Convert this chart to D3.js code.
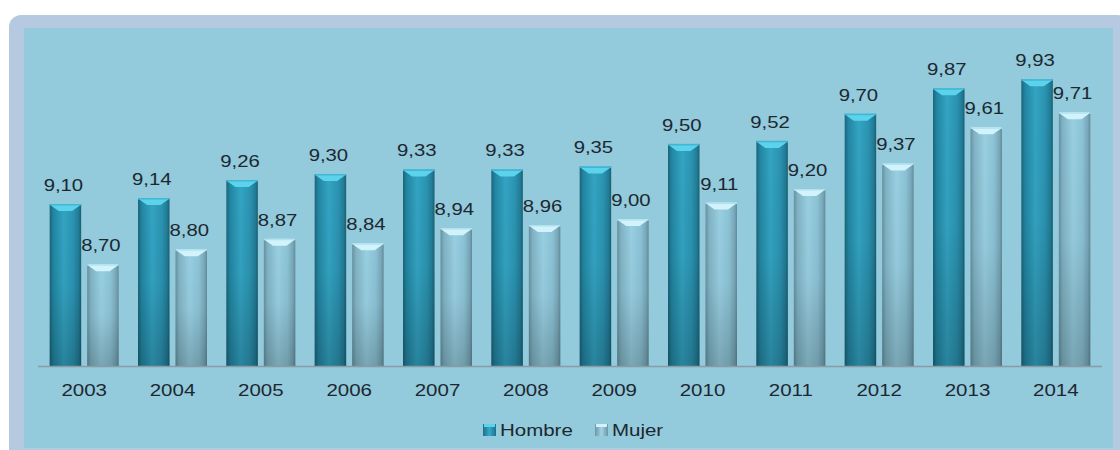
<!DOCTYPE html>
<html><head><meta charset="utf-8">
<script src="https://cdn.jsdelivr.net/npm/d3@7/dist/d3.min.js"></script>
<style>html,body{margin:0;padding:0;background:#fff;}svg{display:block;}</style>
</head><body>
<script>
const years = ["2003","2004","2005","2006","2007","2008","2009","2010","2011","2012","2013","2014"];
const hombre = [9.10,9.14,9.26,9.30,9.33,9.33,9.35,9.50,9.52,9.70,9.87,9.93];
const mujer  = [8.70,8.80,8.87,8.84,8.94,8.96,9.00,9.11,9.20,9.37,9.61,9.71];
const seriesNames = ["Hombre","Mujer"];

const W = 1120, H = 450;
const FONT = "'Liberation Sans', Arial, sans-serif";
const TXT = "#1c2830";
const svg = d3.select("body").append("svg").attr("width", W).attr("height", H);
const defs = svg.append("defs");

function hgrad(id, stops){
  const g = defs.append("linearGradient").attr("id", id).attr("x1","0").attr("x2","1").attr("y1","0").attr("y2","0");
  stops.forEach(s => g.append("stop").attr("offset", s[0]).attr("stop-color", s[1]));
}
function vgrad(id, stops){
  const g = defs.append("linearGradient").attr("id", id).attr("x1","0").attr("x2","0").attr("y1","0").attr("y2","1");
  stops.forEach(s => g.append("stop").attr("offset", s[0]).attr("stop-color", s[1][0]).attr("stop-opacity", s[1][1]));
}
hgrad("gH", [[0,"#1a657a"],[0.12,"#2286a2"],[0.45,"#33a4c3"],[0.75,"#2b93b1"],[0.92,"#217c96"],[1,"#185f73"]]);
hgrad("gM", [[0,"#67909f"],[0.12,"#80b3c4"],[0.45,"#98cfe1"],[0.75,"#8bc2d5"],[0.92,"#78a7b8"],[1,"#638b99"]]);
vgrad("shade", [[0,["#000",0]],[0.5,["#000",0.03]],[1,["#000",0.2]]]);
hgrad("legH", [[0,"#1d7088"],[0.5,"#36a7c6"],[1,"#1d7088"]]);
hgrad("legM", [[0,"#6b96a5"],[0.5,"#a3d3e3"],[1,"#6b96a5"]]);

// panel
svg.append("rect").attr("x", 9).attr("y", 15).attr("width", 1120).attr("height", 450)
  .attr("rx", 12).attr("fill", "#b5c9e1");
svg.append("rect").attr("x", 24).attr("y", 28).attr("width", 1089).attr("height", 420)
  .attr("fill", "#93cadc");

const x0 = d3.scaleBand().domain(years).range([40, 1100]).paddingInner(0).paddingOuter(0);
const x1 = d3.scaleBand().domain(seriesNames).range([x0.bandwidth()/2 - 34.5, x0.bandwidth()/2 + 34.5]).paddingInner(0.16);
const y = d3.scaleLinear().domain([8.02, 10]).range([366.5, 366.5 - 1.98*150.4]);

const data = years.map((yr,i) => ({year: yr, vals: [
  {s:"Hombre", v: hombre[i]}, {s:"Mujer", v: mujer[i]}]}));

const g = svg.append("g");
const groups = g.selectAll("g.grp").data(data).join("g").attr("class","grp")
  .attr("transform", d => `translate(${x0(d.year)},0)`);

const bars = groups.selectAll("g.bar").data(d => d.vals).join("g").attr("class","bar");
const bw = x1.bandwidth();
bars.append("rect")
  .attr("x", d => x1(d.s)).attr("width", bw)
  .attr("y", d => y(d.v)).attr("height", d => y.range()[0] - y(d.v))
  .attr("fill", d => d.s === "Hombre" ? "url(#gH)" : "url(#gM)");
bars.append("rect")
  .attr("x", d => x1(d.s)).attr("width", bw)
  .attr("y", d => y(d.v)).attr("height", d => y.range()[0] - y(d.v))
  .attr("fill", "url(#shade)");
// top bevel cap
bars.append("path")
  .attr("d", d => {
    const xa = x1(d.s), xb = xa + bw, t = y(d.v);
    return `M${xa},${t} L${xb},${t} L${xb-2},${t+2} L${xb-9},${t+7} L${xa+9},${t+7} L${xa+2},${t+2} Z`;
  })
  .attr("fill", d => d.s === "Hombre" ? "#5cd3ec" : "#d2f3fb");
bars.append("path")
  .attr("d", d => {
    const xa = x1(d.s), xb = xa + bw, t = y(d.v);
    return `M${xa},${t} L${xb},${t} L${xb},${t+1.5} L${xa},${t+1.5} Z`;
  })
  .attr("fill", d => d.s === "Hombre" ? "#43b6d2" : "#b0e2f0");

// value labels (horizontally stretched like the reference)
bars.append("text")
  .attr("transform", d => `translate(${x1(d.s) + bw/2 - 2},${y(d.v) - 13}) scale(1.27,1)`)
  .attr("text-anchor", "middle")
  .attr("font-family", FONT)
  .attr("font-size", 16)
  .attr("fill", TXT)
  .text(d => d.v.toFixed(2).replace(".", ","));

// baseline
svg.append("line").attr("x1", 38).attr("x2", 1102).attr("y1", 366.5).attr("y2", 366.5)
  .attr("stroke", "#8a9ca3").attr("stroke-width", 1.5);

// x axis labels
const xAxis = d3.axisBottom(x0).tickSize(0).tickPadding(0);
const ax = svg.append("g").attr("transform", "translate(0,0)").call(xAxis);
ax.select(".domain").remove();
ax.selectAll(".tick").attr("transform", d => `translate(${x0(d) + x0.bandwidth()/2},396) scale(1.28,1)`);
ax.selectAll("text")
  .attr("font-family", FONT)
  .attr("font-size", 16)
  .attr("fill", TXT).attr("dy", 0).attr("y", 0);

// legend
const leg = svg.append("g");
const legItems = [
  {name: seriesNames[0], x: 483, fill: "url(#legH)"},
  {name: seriesNames[1], x: 595, fill: "url(#legM)"}
];
legItems.forEach(it => {
  leg.append("rect").attr("x", it.x).attr("y", 424).attr("width", 13).attr("height", 12).attr("fill", it.fill);
  leg.append("rect").attr("x", it.x+1).attr("y", 424).attr("width", 11).attr("height", 3).attr("fill", it.name==="Hombre" ? "#5cd3ec" : "#d2f3fb");
  leg.append("text").attr("transform", `translate(${it.x + 17},436) scale(1.28,1)`)
    .attr("font-family", FONT)
    .attr("font-size", 16)
    .attr("fill", TXT).text(it.name);
});
</script>
</body></html>
